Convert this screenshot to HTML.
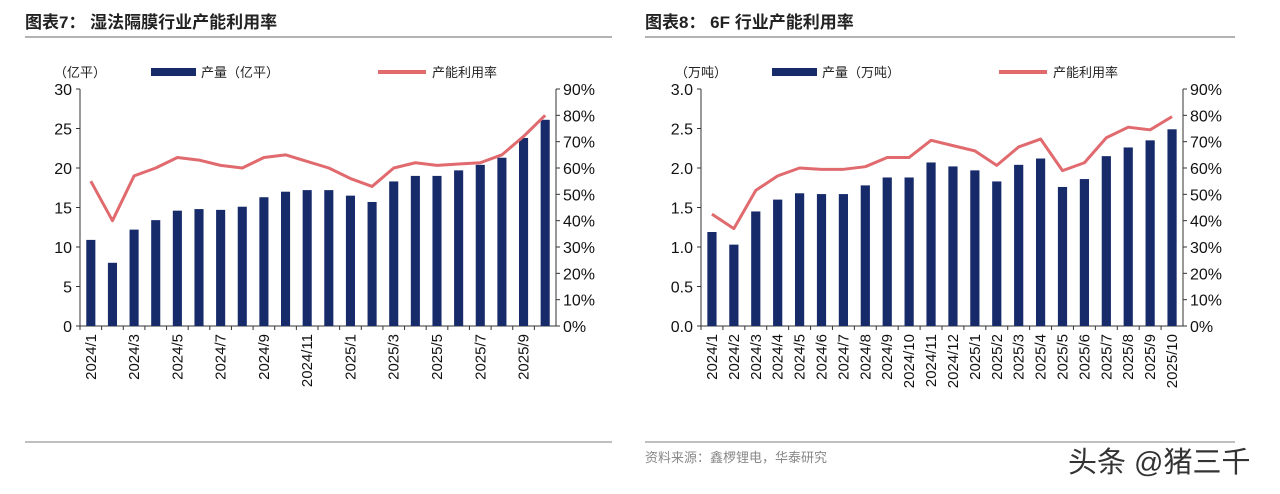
<!DOCTYPE html>
<html><head><meta charset="utf-8"><style>
body{margin:0;background:#fff;width:1280px;height:489px;overflow:hidden;font-family:"Liberation Sans","Noto Sans CJK SC",sans-serif;}
svg text{font-family:"Liberation Sans","Noto Sans CJK SC",sans-serif;}
</style></head><body>
<svg id="s" width="1280" height="489">
<text x="25" y="28" font-size="17" font-weight="bold" fill="#222">图表7：  湿法隔膜行业产能利用率</text>
<line x1="25" y1="37" x2="612" y2="37" stroke="#999" stroke-width="1.5"/>
<text x="645" y="28" font-size="17" font-weight="bold" fill="#222">图表8：  6F 行业产能利用率</text>
<line x1="645" y1="37" x2="1235" y2="37" stroke="#999" stroke-width="1.5"/>
<line x1="25" y1="442" x2="612" y2="442" stroke="#aaa" stroke-width="1.5"/>
<line x1="645" y1="442" x2="1235" y2="442" stroke="#aaa" stroke-width="1.5"/>
<text x="645" y="462" font-size="13" fill="#888">资料来源：鑫椤锂电，华泰研究</text>
<text x="1068" y="472" font-size="29" fill="#333">头条 @猪三千</text>
</svg>
<script>
const cats7=["2024/1","2024/2","2024/3","2024/4","2024/5","2024/6","2024/7","2024/8","2024/9","2024/10","2024/11","2024/12","2025/1","2025/2","2025/3","2025/4","2025/5","2025/6","2025/7","2025/8","2025/9","2025/10"];
const bars7=[10.9,8.0,12.2,13.4,14.6,14.8,14.7,15.1,16.3,17.0,17.2,17.2,16.5,15.7,18.3,19.0,19.0,19.7,20.4,21.3,23.8,26.1];
const line7=[55,40,57,60,64,63,61,60,64,65,62.5,60,56,53,60,62,61,61.5,62,65,72,80];
const ticksL7=["0","5","10","15","20","25","30"];
const cats8=cats7.slice();
const bars8=[1.19,1.03,1.45,1.60,1.68,1.67,1.67,1.78,1.88,1.88,2.07,2.02,1.97,1.83,2.04,2.12,1.76,1.86,2.15,2.26,2.35,2.49];
const line8=[42.5,37,51.5,57,60,59.5,59.5,60.5,64,64,70.5,68.5,66.5,61,68,71,59,62,71.5,75.5,74.5,79.5];
const ticksL8=["0.0","0.5","1.0","1.5","2.0","2.5","3.0"];
const ticksR=["0%","10%","20%","30%","40%","50%","60%","70%","80%","90%"];
const NS="http://www.w3.org/2000/svg";
const svg=document.getElementById('s');
function mk(t,a,txt){const e=document.createElementNS(NS,t);for(const k in a)e.setAttribute(k,a[k]);if(txt!=null)e.textContent=txt;svg.appendChild(e);return e;}
function chart(o){
 const top=89,bot=326,h=bot-top;
 const y=v=>bot-v/o.max*h, yr=v=>bot-v/90*h;
 const n=o.cats.length, step=(o.xR-o.xL)/n, xc=i=>o.xL+step*(i+0.5);
 let e=mk('line',{x1:o.xL,y1:top,x2:o.xL,y2:bot,stroke:'#333'});
 e=mk('line',{x1:o.xL,y1:bot,x2:o.xR,y2:bot,stroke:'#333'});
 e=mk('line',{x1:o.xR,y1:top,x2:o.xR,y2:bot,stroke:'#333'});
 o.ticksL.forEach((t,i)=>{const v=i*o.max/(o.ticksL.length-1);
  mk('line',{x1:o.xL-4,y1:y(v),x2:o.xL,y2:y(v),stroke:'#333'});
  e=mk('text',{x:o.xL-8,y:y(v)+6,'font-size':16,'text-anchor':'end',fill:'#111'},t);
  });
 ticksR.forEach((t,i)=>{const v=i*10;
  mk('line',{x1:o.xR,y1:yr(v),x2:o.xR+4,y2:yr(v),stroke:'#333'});
  e=mk('text',{x:o.xR+7,y:yr(v)+6,'font-size':16,fill:'#111'},t);
  });
 o.cats.forEach((c,i)=>{
  mk('line',{x1:o.xL+step*i,y1:bot,x2:o.xL+step*i,y2:bot+4,stroke:'#333'});
  if(i%o.every===0){const tx=xc(i)+5,ty=bot+8;
   e=mk('text',{x:tx,y:ty,'font-size':15,'text-anchor':'end',fill:'#111',transform:`rotate(-90 ${tx} ${ty})`},c);
   }
 });
 const bw=step*0.42;
 o.bars.forEach((v,i)=>{e=mk('rect',{x:xc(i)-bw/2,y:y(v),width:bw,height:bot-y(v),fill:'#172b6b'});
  });
 e=mk('polyline',{points:o.line.map((v,i)=>xc(i)+','+yr(v)).join(' '),fill:'none',stroke:'#e06a6e','stroke-width':3,'stroke-linejoin':'round'});
 
 e=mk('text',{x:o.xL-26,y:77,'font-size':13,fill:'#222'},o.unit);
 
 e=mk('rect',{x:o.xL+71,y:68,width:45,height:8,fill:'#172b6b'});
 
 e=mk('text',{x:o.xL+121,y:77,'font-size':13,fill:'#222'},o.legend);
 
 e=mk('line',{x1:o.xL+298,y1:72,x2:o.xL+346,y2:72,stroke:'#e06a6e','stroke-width':4});
 
 e=mk('text',{x:o.xL+352,y:77,'font-size':13,fill:'#222'},'产能利用率');
 
}
chart({xL:80,xR:556,max:30,cats:cats7,bars:bars7,line:line7,ticksL:ticksL7,every:2,unit:'（亿平）',legend:'产量（亿平）'});
chart({xL:701,xR:1183,max:3,cats:cats8,bars:bars8,line:line8,ticksL:ticksL8,every:1,unit:'（万吨）',legend:'产量（万吨）'});
</script>
</body></html>
